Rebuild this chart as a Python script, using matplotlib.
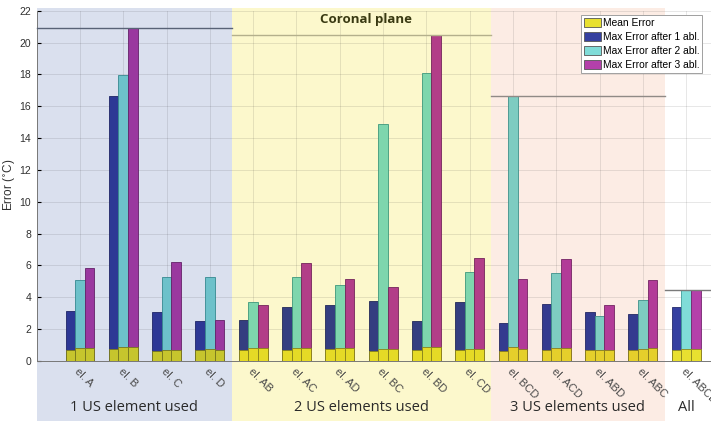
import matplotlib as mpl
import matplotlib.pyplot as plt
from matplotlib.colors import to_rgb
from matplotlib.patches import Patch, Rectangle
import numpy as np

mpl.rcParams['font.family'] = ['Liberation Sans', 'DejaVu Sans']

# data
labels = ['el. A', 'el. B', 'el. C', 'el. D',
          'el. AB', 'el. AC', 'el. AD', 'el. BC', 'el. BD', 'el. CD',
          'el. BCD', 'el. ACD', 'el. ABD', 'el. ABC', 'el. ABCD']
max_abl1 = [3.16, 16.62, 3.10, 2.53, 2.58, 3.37, 3.52, 3.77, 2.51, 3.73,
            2.41, 3.60, 3.06, 2.93, 3.37]
max_abl2 = [5.09, 17.95, 5.30, 5.30, 3.68, 5.28, 4.75, 14.90, 18.10, 5.57,
            16.65, 5.53, 2.85, 3.83, 4.48]
max_abl3 = [5.84, 20.90, 6.22, 2.55, 3.50, 6.13, 5.17, 4.63, 20.50, 6.49,
            5.13, 6.41, 3.50, 5.07, 4.48]
mean_abl1 = [0.69, 0.77, 0.63, 0.66, 0.69, 0.69, 0.75, 0.63, 0.69, 0.69,
             0.65, 0.69, 0.71, 0.66, 0.66]
mean_abl2 = [0.84, 0.87, 0.66, 0.77, 0.80, 0.80, 0.84, 0.77, 0.86, 0.77,
             0.86, 0.80, 0.71, 0.73, 0.73]
mean_abl3 = [0.84, 0.90, 0.66, 0.66, 0.84, 0.84, 0.84, 0.73, 0.90, 0.77,
             0.73, 0.80, 0.71, 0.80, 0.77]
group_names = ['1 US element used', '2 US elements used', '3 US elements used', 'All']
group_sizes = [4, 6, 4, 1]

c_mean = '#e8e030'
c_abl = ['#3540a0', '#80dcd8', '#b440aa']
e_abl = ['#232a6e', '#3f9c9a', '#74266f']
e_mean = '#8a8620'
bg_cols = ['#dae0ee', '#fcf8cc', '#fcece4', '#ffffff']
line_cols = ['#586276', '#b4b08c', '#908a86', '#7a7a7a']


def tint(c, bg):
    # multiply blend of a bar colour with the region background
    return tuple(np.array(to_rgb(c)) * np.array(to_rgb(bg)))


fig = plt.figure(figsize=(7.11, 4.21), dpi=100)
ax = fig.add_axes([0.0516, 0.1425, 0.9744, 0.832])
ax.set_axisbelow(True)

x = np.arange(1, len(labels) + 1)
region_of = np.repeat(np.arange(len(group_sizes)), group_sizes)
w = 0.222
maxes = [max_abl1, max_abl2, max_abl3]
means = [mean_abl1, mean_abl2, mean_abl3]
for i in range(3):
    xi = x + (i - 1) * w
    bgs = [bg_cols[r] for r in region_of]
    ax.bar(xi, maxes[i], width=w, color=[tint(c_abl[i], b) for b in bgs],
           edgecolor=[tint(e_abl[i], b) for b in bgs], lw=0.6, zorder=2)
    ax.bar(xi, means[i], width=w, color=[tint(c_mean, b) for b in bgs],
           edgecolor=[tint(e_mean, b) for b in bgs], lw=0.6, zorder=2.1)

ax.set_xlim(0, 16)
ax.set_ylim(0, 22)
ax.set_yticks(np.arange(0, 23, 2))
ax.set_xticks(x)
ax.set_xticklabels(labels, rotation=-45, ha='left', va='top', rotation_mode='anchor',
                   fontsize=8, color='#4a4a4a')
ax.tick_params(axis='y', direction='in', length=3, labelsize=7.5, labelcolor='#303030', pad=4)
ax.tick_params(axis='x', direction='in', length=2, pad=4)
ax.grid(True, color='#262626', alpha=0.13, lw=0.6)
for s in ['top', 'right']:
    ax.spines[s].set_visible(False)
for s in ['left', 'bottom']:
    ax.spines[s].set_color('#777777')
    ax.spines[s].set_linewidth(0.7)

# shaded regions behind the bars
stacked = np.max(np.array(maxes), axis=0)
start = 0
for k, n in enumerate(group_sizes):
    x0 = 0.0 if k == 0 else start + 0.5
    x1 = start + n + 0.5 if k < 3 else 16
    if k < 3:
        ax.add_patch(Rectangle((x0, -3.8), x1 - x0, 22.15 + 3.8, facecolor=bg_cols[k],
                               lw=0, clip_on=False, zorder=0.2))
    top = stacked[start:start + n].max()
    ax.plot([x0, x1], [top, top], color=line_cols[k], lw=1.0, zorder=3.5, clip_on=False)
    cx = (x0 + x1) / 2 if k < 3 else 15
    ax.text(cx, -2.95, group_names[k], ha='center', va='center', fontsize=10.5,
            family='Open Sans', color='#2a2a2a', zorder=4)
    start += n

ax.text(7.6, 21.42, 'Coronal plane', ha='center', va='center', fontsize=9.5,
        fontweight='bold', family='Open Sans', color='#3a3a12', zorder=4)

fig.text(10 / 711, 1 - 185 / 421, 'Error ($^{\\circ}$C)', rotation=90, ha='center',
         va='center', fontsize=8.5, color='#303030')

handles = [Patch(facecolor=c_mean, edgecolor='#555555', lw=0.6)] + \
          [Patch(facecolor=c, edgecolor='#555555', lw=0.6) for c in c_abl]
leg = ax.legend(handles, ['Mean Error', 'Max Error after 1 abl.', 'Max Error after 2 abl.',
                          'Max Error after 3 abl.'],
                loc='upper right', bbox_to_anchor=(0.960, 0.988), fontsize=7.4,
                fancybox=False, edgecolor='#a0a0a0', framealpha=1, borderpad=0.25,
                labelspacing=0.35, handlelength=1.7, handleheight=1.1,
                handletextpad=0.15, borderaxespad=0)
leg.set_zorder(10)
leg.get_frame().set_linewidth(0.7)

fig.savefig('out.png', dpi=100, facecolor='white')
